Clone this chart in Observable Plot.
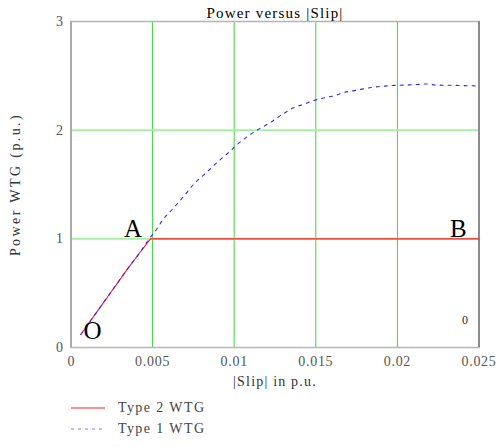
<!DOCTYPE html>
<html>
<head>
<meta charset="utf-8">
<script src="https://cdn.jsdelivr.net/npm/d3@7"></script>
<script src="https://cdn.jsdelivr.net/npm/@observablehq/plot@0.6"></script>
<style>
  html, body { margin: 0; padding: 0; background: #fff; }
  #wrap { position: relative; width: 501px; height: 447px; overflow: hidden; font-family: "Liberation Serif", serif; }
  #chart svg { display: block; }
  .leg { position: absolute; left: 71px; height: 20px; display: flex; align-items: center; font-size: 14px; color: #444; letter-spacing: 1.4px; }
  .leg svg { margin-right: 13px; }
</style>
</head>
<body>
<div id="wrap">
  <div id="chart"></div>
  <div id="legend"></div>
</div>
<script>
// ---- data ----
const titleText = "Power versus |Slip|";
const xLabel = "|Slip| in p.u.";
const yLabel = "Power WTG (p.u.)";
const xTicks = [0, 0.005, 0.01, 0.015, 0.02, 0.025];
const yTicks = [0, 1, 2, 3];
const seriesNames = ["Type 2 WTG", "Type 1 WTG"];

const type1Slip  = [0.0006, 0.0015, 0.0025, 0.0035, 0.0042, 0.0048, 0.0053, 0.0056, 0.0062, 0.0069, 0.0075, 0.0083, 0.009, 0.0097, 0.0102, 0.0108, 0.0114, 0.0122, 0.013, 0.0137, 0.0143, 0.0148, 0.0153, 0.0162, 0.0168, 0.0172, 0.0183, 0.0188, 0.0196, 0.0204, 0.0212, 0.0217, 0.0224, 0.0233, 0.0241, 0.025];
const type1Power = [0.12, 0.31, 0.52, 0.73, 0.87, 1.0, 1.1, 1.17, 1.27, 1.39, 1.5, 1.61, 1.71, 1.8, 1.87, 1.94, 2.0, 2.07, 2.15, 2.21, 2.24, 2.27, 2.29, 2.32, 2.35, 2.36, 2.39, 2.40, 2.41, 2.415, 2.42, 2.425, 2.415, 2.413, 2.41, 2.407];

const type2Slip  = [0.0006, 0.0015, 0.0025, 0.0035, 0.0042, 0.00487, 0.025];
const type2Power = [0.12, 0.31, 0.52, 0.73, 0.87, 1.0, 1.0];

const annoText = ["A", "B", "O"];
const annoX = [0.0038, 0.02374, 0.00132];
const annoY = [1.088, 1.093, 0.149];
const smallText = ["0"];
const smallX = [0.02414];
const smallY = [0.25];

// ---- build ----
const type1 = type1Slip.map((x, i) => ({x, y: type1Power[i]}));
const type2 = type2Slip.map((x, i) => ({x, y: type2Power[i]}));
const anno = annoText.map((t, i) => ({t, x: annoX[i], y: annoY[i]}));
const small = smallText.map((t, i) => ({t, x: smallX[i], y: smallY[i]}));
const font = "Liberation Serif";

const chart = Plot.plot({
  width: 501,
  height: 392,
  marginLeft: 70.5,
  marginRight: 22.5,
  marginTop: 21,
  marginBottom: 45,
  x: {domain: [0, 0.025]},
  y: {domain: [0, 3]},
  style: {fontFamily: font, fontSize: "14px", color: "#555", background: "#fff"},
  marks: [
    Plot.ruleX(xTicks.slice(1, -1), {stroke: "#3ad83a", strokeWidth: 1}),
    Plot.ruleY(yTicks.slice(1, -1), {stroke: "#a6f0a6", strokeWidth: 2}),
    Plot.frame({stroke: "#b4b4b4", strokeWidth: 1.5}),
    Plot.ruleX([0], {stroke: "#aaa", strokeWidth: 2}),
    Plot.ruleX([0.025], {stroke: "#8c8c8c", strokeWidth: 2}),
    Plot.ruleY([0], {stroke: "#ff9a9a", strokeWidth: 1.2, strokeDasharray: "4,3"}),
    Plot.axisX({ticks: xTicks, tickSize: 0, tickPadding: 9, tickFormat: d => String(d), label: null}),
    Plot.axisY({ticks: yTicks, tickSize: 0, tickPadding: 8, tickFormat: d => String(d), label: null}),
    Plot.line(type2, {x: "x", y: "y", stroke: "#ff1a1a", strokeWidth: 1.1}),
    Plot.line(type1, {x: "x", y: "y", stroke: "#2a2aff", strokeWidth: 1.1, strokeDasharray: "3,5", curve: "monotone-x"}),
    Plot.text(anno, {x: "x", y: "y", text: "t", fontSize: 25, fill: "#000", fontFamily: font}),
    Plot.text(small, {x: "x", y: "y", text: "t", fontSize: 12, fill: "#222", fontFamily: font}),
    Plot.text([titleText], {frameAnchor: "top", dy: -14, fontSize: 15, fill: "#000"}),
    Plot.text([xLabel], {frameAnchor: "bottom", dy: 38, fontSize: 14, fill: "#333"}),
    Plot.text([yLabel], {frameAnchor: "left", dx: -55, rotate: -90, textAnchor: "middle", fontSize: 14, fill: "#333"})
  ]
});
document.getElementById("chart").appendChild(chart);
const spacing = new Map([[titleText, "1.2px"], [xLabel, "1.2px"], [yLabel, "2.4px"]]);
d3.select(chart).selectAll("text").each(function() {
  const t = this.textContent;
  if (spacing.has(t)) this.setAttribute("letter-spacing", spacing.get(t));
  else if (/^[0-9.]+$/.test(t) && t.length > 1) this.setAttribute("letter-spacing", "0.7px");
});

// legend
const legend = document.getElementById("legend");
const styles = [
  {stroke: "#ff2020", dash: null, top: 398},
  {stroke: "#8080ff", dash: "3,4", top: 419}
];
seriesNames.forEach((name, i) => {
  const s = styles[i];
  const div = document.createElement("div");
  div.className = "leg";
  div.style.top = s.top + "px";
  div.innerHTML = `<svg width="34" height="4"><line x1="0" x2="34" y1="2" y2="2" stroke="${s.stroke}" stroke-width="1.2" ${s.dash ? `stroke-dasharray="${s.dash}"` : ""}/></svg><span>${name}</span>`;
  legend.appendChild(div);
});
</script>
</body>
</html>
